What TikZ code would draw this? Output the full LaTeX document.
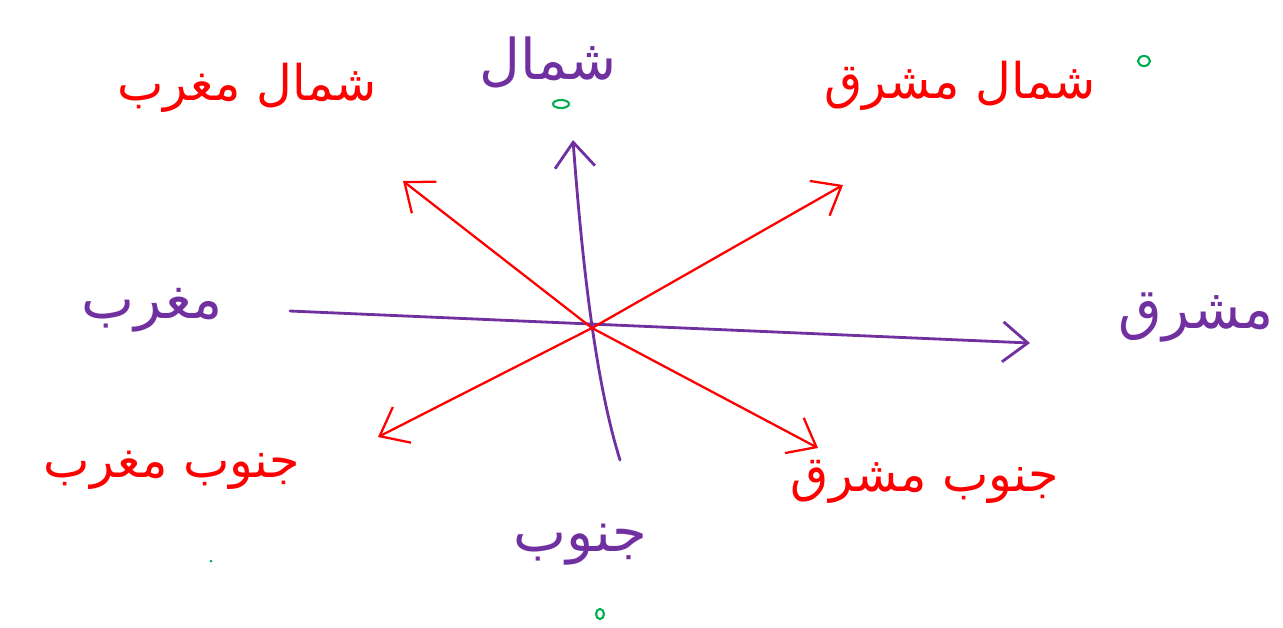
\documentclass[tikz,border=0pt]{standalone}
\usepackage{fontspec}
\newfontfamily\arabicfont[Script=Arabic]{DejaVu Sans}
\TeXXeTstate=1
\usepackage{xcolor}
\usetikzlibrary{arrows.meta}

\definecolor{inkpurple}{RGB}{112,48,160}
\definecolor{inkred}{RGB}{255,0,0}
\definecolor{inkgreen}{RGB}{0,176,80}
\newcommand{\urdu}[1]{{\arabicfont\beginR #1\endR}}

\begin{document}
\begin{tikzpicture}[x=0.02cm,y=-0.02cm,
    >={Straight Barb[length=5mm,width=8mm]},
    axis/.style={->,line width=1.6pt,draw=inkpurple,line cap=round},
    diag/.style={->,line width=1.3pt,draw=inkred,line cap=round},
    mainword/.style={text=inkpurple,inner sep=0pt,
      font=\fontsize{32}{38}\selectfont},
    midword/.style={text=inkred,inner sep=0pt,
      font=\fontsize{28}{34}\selectfont},
    greenmark/.style={draw=inkgreen,line width=1.2pt}
  ]
    \useasboundingbox (0,0) rectangle (1283,627);

    % centre and arrow ends
    \coordinate (centre) at (592,328);
    \coordinate (ntip) at (573,140);
    \coordinate (sfoot) at (620,460);
    \coordinate (etip) at (1030,343);
    \coordinate (wfoot) at (290,311);
    \coordinate (nwtip) at (403,181);
    \coordinate (netip) at (843,185);
    \coordinate (swtip) at (378,437);
    \coordinate (setip) at (818,448);

    % main axes
    \draw[axis] (wfoot) -- (etip);
    \draw[axis] (sfoot) .. controls (595,380) and (582,260) .. (ntip);

    % in-between directions
    \draw[diag] (centre) -- (nwtip);
    \draw[diag] (centre) -- (netip);
    \draw[diag] (centre) -- (swtip);
    \draw[diag] (centre) -- (setip);

    % labels
    \node[mainword] (north) at (548,62) {\urdu{شمال}};
    \node[mainword] (south) at (580,545) {\urdu{جنوب}};
    \node[mainword] (east) at (1196,318) {\urdu{مشرق}};
    \node[mainword] (west) at (152,310) {\urdu{مغرب}};
    \node[midword] (northwest) at (247,88) {\urdu{شمال مغرب}};
    \node[midword] (northeast) at (960,86) {\urdu{شمال مشرق}};
    \node[midword] (southwest) at (172,470) {\urdu{جنوب مغرب}};
    \node[midword] (southeast) at (925,482) {\urdu{جنوب مشرق}};

    % green dots
    \draw[greenmark] (561,104) ellipse (8 and 4);
    \draw[greenmark] (1144,61) ellipse (6 and 5);
    \fill[inkgreen] (211,561) circle (1.5);
    \draw[greenmark] (600,614) ellipse (4 and 5);
\end{tikzpicture}
\end{document}
